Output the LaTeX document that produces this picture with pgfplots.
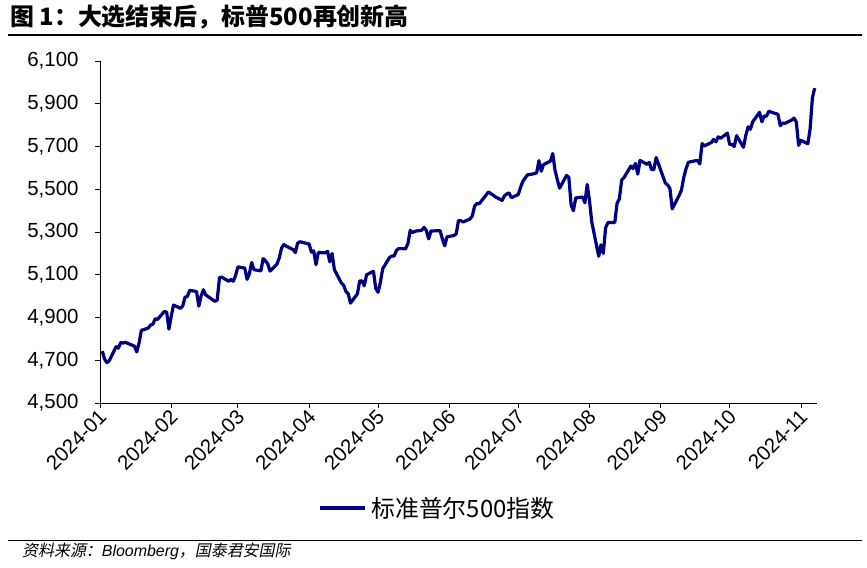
\documentclass[border=0pt]{standalone}
\usepackage{pgfplots}
\pgfplotsset{compat=1.18}
\usepackage{pgfplotstable}
\usepackage{fontspec}
\setmainfont{Liberation Sans}
\newfontfamily\cjk{Noto Sans CJK SC}
\newfontfamily\cjkit[FakeSlant=0.2]{Noto Sans CJK SC}
\definecolor{navyline}{RGB}{0,0,128}
\pgfplotstableread{
day value
1 4742.83
2 4704.81
3 4688.68
4 4697.24
7 4763.54
8 4756.50
9 4783.45
10 4780.24
11 4783.83
15 4765.98
16 4739.21
17 4780.94
18 4839.81
21 4850.43
22 4864.60
23 4868.55
24 4894.16
25 4890.97
28 4927.93
29 4924.97
30 4845.65
31 4906.19
32 4958.61
35 4942.81
36 4954.23
37 4995.06
38 4997.91
39 5026.61
42 5021.84
43 4953.17
44 5000.62
45 5029.73
46 5005.57
50 4975.51
51 4981.80
52 5087.03
53 5088.80
56 5069.53
57 5078.18
58 5069.76
59 5096.27
60 5137.08
63 5130.95
64 5078.65
65 5104.76
66 5157.36
67 5123.69
70 5117.94
71 5175.27
72 5165.31
73 5150.48
74 5117.09
77 5149.42
78 5178.51
79 5224.62
80 5241.53
81 5234.18
84 5218.19
85 5203.58
86 5248.49
87 5254.35
91 5243.77
92 5205.81
93 5211.49
94 5147.21
95 5204.34
98 5202.39
99 5209.91
100 5160.64
101 5199.06
102 5123.41
105 5061.82
106 5051.41
107 5022.21
108 5011.12
109 4967.23
112 5010.60
113 5070.55
114 5071.63
115 5048.42
116 5099.96
119 5116.17
120 5035.69
121 5018.39
122 5064.20
123 5127.79
126 5180.74
127 5187.70
128 5187.67
129 5214.08
130 5222.68
133 5221.42
134 5246.68
135 5308.15
136 5297.10
137 5303.27
140 5308.13
141 5321.41
142 5307.01
143 5267.84
144 5304.72
148 5306.04
149 5266.95
150 5235.48
151 5277.51
154 5283.40
155 5291.34
156 5354.03
157 5352.96
158 5346.99
161 5360.79
162 5375.32
163 5421.03
164 5433.74
165 5431.60
168 5473.23
169 5487.03
171 5473.17
172 5464.62
175 5447.87
176 5469.30
177 5477.90
178 5482.87
179 5460.48
182 5475.09
183 5509.01
184 5537.02
186 5567.19
189 5572.85
190 5576.98
191 5633.91
192 5584.54
193 5615.35
196 5631.22
197 5667.20
198 5588.27
199 5544.59
200 5505.00
203 5564.41
204 5555.74
205 5427.13
206 5399.22
207 5459.10
210 5463.54
211 5436.44
212 5522.30
213 5446.68
214 5346.56
217 5186.33
218 5240.03
219 5199.50
220 5319.31
221 5344.16
224 5344.39
225 5434.43
226 5455.21
227 5543.22
228 5554.25
231 5608.25
232 5597.12
233 5620.85
234 5570.64
235 5634.61
238 5616.84
239 5625.80
240 5592.18
241 5591.96
242 5648.40
246 5528.93
247 5520.07
248 5503.41
249 5408.42
252 5471.05
253 5495.52
254 5554.13
255 5595.76
256 5626.02
259 5633.09
260 5634.58
261 5618.26
262 5713.64
263 5702.55
266 5718.57
267 5732.93
268 5722.26
269 5745.37
270 5738.17
273 5762.48
274 5708.75
275 5709.54
276 5699.94
277 5751.07
280 5695.94
281 5751.13
282 5792.04
283 5780.05
284 5815.03
287 5859.85
288 5815.26
289 5842.47
290 5841.47
291 5864.67
294 5853.98
295 5851.20
296 5797.42
297 5809.86
298 5808.12
301 5823.52
302 5832.92
303 5813.67
304 5705.45
305 5728.80
308 5712.69
309 5782.76
310 5929.04
311 5973.10
}\spx
\begin{document}
\begin{tikzpicture}[x=1bp,y=1bp]
\useasboundingbox (-100,-165) rectangle (767,403);
\begin{axis}[
  at={(0,0)}, anchor=origin,
  scale only axis, width=717bp, height=342bp,
  xmin=0, xmax=312, ymin=4500, ymax=6100,
  axis lines=left, axis line style={-, line width=0.9pt, black},
  xtick={0,31,60,91,121,152,182,213,244,274,305},
  xticklabels={2024-01,2024-02,2024-03,2024-04,2024-05,2024-06,2024-07,2024-08,2024-09,2024-10,2024-11},
  ytick={4500,4700,4900,5100,5300,5500,5700,5900,6100},
  yticklabel style={xshift=-13bp, /pgf/number format/.cd, 1000 sep={,}, assume math mode=true},
  tick align=outside, major tick length=5bp,
  tick style={line width=0.8pt, black},
  ticklabel style={font=\fontsize{20.5}{24}\selectfont},
  xticklabel style={rotate=45, anchor=east, inner sep=2pt, yshift=-6bp},
  clip=false,
]
\addplot[navyline, line width=3.2bp, line join=round] table[x=day, y=value] {\spx};
\end{axis}
\node[anchor=base west, inner sep=0] at (-90,377) {\cjk\bfseries\fontsize{24}{28}\selectfont 图 1：大选结束后，标普500再创新高};
\draw[line width=1.2pt] (-92,368) -- (762,368);
\draw[navyline, line width=3.2bp] (220,-105) -- (265,-105);
\node[anchor=west, inner sep=0] at (271,-105) {\cjk\fontsize{24}{28}\selectfont 标准普尔500指数};
\draw[line width=1pt] (-92,-137) -- (762,-137);
\node[anchor=base west, inner sep=0] at (-78,-154) {\fontsize{16}{19}\selectfont\cjkit 资料来源：\itshape\rmfamily Bloomberg\cjkit ，国泰君安国际};
\end{tikzpicture}
\end{document}
